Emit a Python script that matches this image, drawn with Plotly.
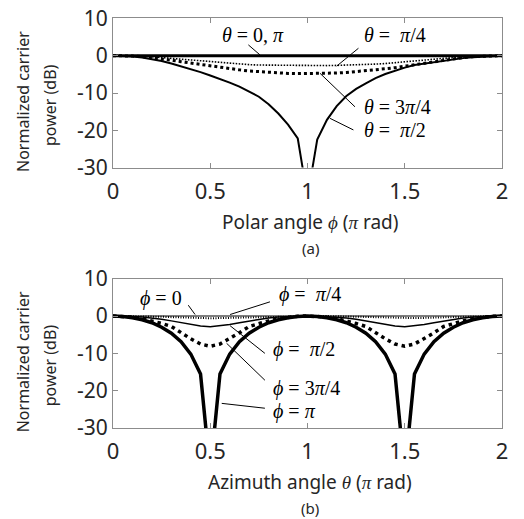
import plotly.graph_objects as go

# ---------------- data ----------------
ang = [0.0, 0.05, 0.1, 0.15, 0.2, 0.25, 0.3, 0.35, 0.4, 0.45, 0.5,
       0.55, 0.6, 0.65, 0.7, 0.75, 0.8, 0.85, 0.9, 0.95, 1.0,
       1.05, 1.1, 1.15, 1.2, 1.25, 1.3, 1.35, 1.4, 1.45, 1.5,
       1.55, 1.6, 1.65, 1.7, 1.75, 1.8, 1.85, 1.9, 1.95, 2.0]

# (a) power vs polar angle phi
a_theta_0_pi = [0.0] * 41
a_theta_pi4 = [0.0, 0.0, -0.05, -0.15, -0.3, -0.5, -0.7, -0.95, -1.2, -1.45, -1.7,
               -1.9, -2.1, -2.25, -2.4, -2.5, -2.55, -2.6, -2.65, -2.7, -2.7,
               -2.7, -2.65, -2.6, -2.55, -2.5, -2.4, -2.25, -2.1, -1.9, -1.7,
               -1.45, -1.2, -0.95, -0.7, -0.5, -0.3, -0.15, -0.05, 0.0, 0.0]
a_theta_3pi4 = [0.0, 0.0, -0.1, -0.25, -0.5, -0.8, -1.2, -1.6, -2.0, -2.4, -2.8,
                -3.2, -3.5, -3.8, -4.1, -4.3, -4.5, -4.65, -4.75, -4.8, -4.8,
                -4.8, -4.75, -4.65, -4.5, -4.3, -4.1, -3.8, -3.5, -3.2, -2.8,
                -2.4, -2.0, -1.6, -1.2, -0.8, -0.5, -0.25, -0.1, 0.0, 0.0]
a_theta_pi2 = [0.0, -0.05, -0.2, -0.5, -0.9, -1.4, -2.1, -2.8, -3.6, -4.4, -5.3,
               -6.2, -7.2, -8.3, -9.6, -11.0, -13.0, -15.5, -18.5, -22.2, -38.0,
               -22.5, -17.2, -13.5, -10.8, -8.9, -7.4, -6.0, -4.9, -4.0, -3.2,
               -2.5, -2.1, -1.7, -1.3, -0.95, -0.65, -0.4, -0.2, -0.05, 0.0]

# (b) power vs azimuth angle theta
b_phi_0 = [0.0] * 41
b_phi_pi4 = [0.0, 0.0, 0.0, -0.05, -0.1, -0.2, -0.3, -0.4, -0.5, -0.55, -0.6,
             -0.55, -0.5, -0.4, -0.3, -0.2, -0.1, -0.05, 0.0, 0.0, 0.0,
             0.0, 0.0, -0.05, -0.1, -0.2, -0.3, -0.4, -0.5, -0.55, -0.6,
             -0.55, -0.5, -0.4, -0.3, -0.2, -0.1, -0.05, 0.0, 0.0, 0.0]
b_phi_pi2 = [0.0, 0.0, -0.1, -0.25, -0.5, -0.85, -1.3, -1.8, -2.3, -2.7, -2.9,
             -2.7, -2.3, -1.8, -1.3, -0.85, -0.5, -0.25, -0.1, 0.0, 0.0,
             0.0, -0.1, -0.25, -0.5, -0.85, -1.3, -1.8, -2.3, -2.7, -2.9,
             -2.7, -2.3, -1.8, -1.3, -0.85, -0.5, -0.25, -0.1, 0.0, 0.0]
b_phi_3pi4 = [0.0, -0.05, -0.3, -0.7, -1.3, -2.0, -2.8, -4.5, -6.1, -7.5, -8.1,
              -7.5, -6.1, -4.5, -2.8, -2.0, -1.3, -0.7, -0.3, -0.05, 0.0,
              -0.05, -0.3, -0.7, -1.3, -2.0, -2.8, -4.5, -6.1, -7.5, -8.1,
              -7.5, -6.1, -4.5, -2.8, -2.0, -1.3, -0.7, -0.3, -0.05, 0.0]
b_phi_pi = [0.0, -0.1, -0.45, -1.0, -1.8, -3.0, -4.6, -6.9, -10.2, -15.5, -42.0,
            -15.5, -10.2, -6.9, -4.6, -3.0, -1.8, -1.0, -0.45, -0.1, 0.0,
            -0.1, -0.45, -1.0, -1.8, -3.0, -4.6, -6.9, -10.2, -15.5, -42.0,
            -15.5, -10.2, -6.9, -4.6, -3.0, -1.8, -1.0, -0.45, -0.1, 0.0]

x_ticks = [0, 0.5, 1, 1.5, 2]
x_ticklabels = ["0", "0.5", "1", "1.5", "2"]
y_ticks = [10, 0, -10, -20, -30]
y_ticklabels = ["10", "0", "-10", "-20", "-30"]

# ---------------- figure ----------------
W, H = 524, 519
SANS = "Noto Sans"
SERIF = "Liberation Serif"
BLACK = "#000000"
PHI = "\u03d5"

fig = go.Figure()

def add(xa, ya, y, width, dash="solid"):
    fig.add_trace(go.Scatter(x=ang, y=y, xaxis=xa, yaxis=ya, mode="lines",
                             line=dict(color=BLACK, width=width, dash=dash),
                             showlegend=False, hoverinfo="skip"))

# (a)
add("x", "y", a_theta_pi2, 2.0)
add("x", "y", a_theta_pi4, 1.6, "1.5px,1.5px")
add("x", "y", a_theta_3pi4, 3.0, "3px,3px")
add("x", "y", a_theta_0_pi, 3.0)
# (b)
add("x2", "y2", b_phi_0, 1.2)
add("x2", "y2", b_phi_pi4, 2.0, "1px,1.5px")
add("x2", "y2", b_phi_pi2, 1.5)
add("x2", "y2", b_phi_3pi4, 3.5, "3.5px,4px")
add("x2", "y2", b_phi_pi, 3.5)

xdom = [113 / W, 502 / W]
top_dom = [1 - 167.6 / H, 1 - 18.4 / H]
bot_dom = [1 - 428 / H, 1 - 278.7 / H]

axis_common = dict(
    showgrid=False, zeroline=False, showline=True, linecolor="#8c8c8c",
    linewidth=1, mirror="ticks", ticks="inside", ticklen=5, tickcolor="#8c8c8c",
    automargin=False,
)
xfont = dict(family=SANS, size=22, color="#262626")
yfont = dict(family=SANS, size=21, color="#262626")
fig.update_layout(
    width=W, height=H, margin=dict(l=0, r=0, t=0, b=0, pad=0, autoexpand=False),
    autosize=False,
    paper_bgcolor="white", plot_bgcolor="white", showlegend=False,
    xaxis=dict(axis_common, domain=xdom, range=[0, 2], anchor="y", tickfont=xfont,
               ticklabelstandoff=4, tickvals=x_ticks, ticktext=x_ticklabels),
    yaxis=dict(axis_common, domain=top_dom, range=[-30, 10], anchor="x", tickfont=yfont,
               tickvals=y_ticks, ticktext=y_ticklabels),
    xaxis2=dict(axis_common, domain=xdom, range=[0, 2], anchor="y2", tickfont=xfont,
                ticklabelstandoff=4, tickvals=x_ticks, ticktext=x_ticklabels),
    yaxis2=dict(axis_common, domain=bot_dom, range=[-30, 10], anchor="x2", tickfont=yfont,
                tickvals=y_ticks, ticktext=y_ticklabels),
)

def ser(s):
    return f'<span style="font-family:{SERIF}"><i>{s}</i></span>'

def paper_text(text, px, py, size, angle=0, color="#262626"):
    fig.add_annotation(text=text, x=px / W, y=1 - py / H, xref="paper", yref="paper",
                       showarrow=False, textangle=angle, xanchor="center", yanchor="middle",
                       font=dict(family=SANS, size=size, color=color))

for off, title, tag in [(0, f"Polar angle {ser(PHI)} ({ser('π')} rad)", "(a)"),
                        (260.3, f"Azimuth angle {ser('θ')} ({ser('π')} rad)", "(b)")]:
    paper_text("Normalized carrier", 23, 102 + off, 16, -90)
    paper_text("power (dB)", 50, 105 + off, 16, -90)
    paper_text(title, 310, 222 + off, 19)
    paper_text(tag, 310, 248 + off, 15)

def label(xa, ya, text, x, y, anchor="left"):
    fig.add_annotation(text=text, x=x, y=y, xref=xa, yref=ya, showarrow=False,
                       xanchor=anchor, yanchor="middle",
                       font=dict(family=SERIF, size=20, color=BLACK))

def leader(xa, ya, x0, y0, x1, y1):
    fig.add_shape(type="line", xref=xa, yref=ya, x0=x0, y0=y0, x1=x1, y1=y1,
                  line=dict(color=BLACK, width=1))

# (a) labels
label("x", "y", "<i>θ</i> = 0, <i>π</i>", 0.72, 5.5, "center")
leader("x", "y", 0.696, 2.9, 0.756, 0.2)
label("x", "y", "<i>θ</i> =  <i>π</i>/4", 1.28, 5.6)
leader("x", "y", 1.262, 2.0, 1.15, -2.8)
label("x", "y", "<i>θ</i> = 3<i>π</i>/4", 1.28, -13.8)
leader("x", "y", 1.064, -4.7, 1.244, -13.7)
label("x", "y", "<i>θ</i> =  <i>π</i>/2", 1.28, -19.9)
leader("x", "y", 1.116, -16.8, 1.236, -19.9)

# (b) labels
label("x2", "y2", f"<i>{PHI}</i> = 0", 0.129, 4.6)
leader("x2", "y2", 0.387, 2.9, 0.422, 0.4)
label("x2", "y2", f"<i>{PHI}</i> =  <i>π</i>/4", 0.843, 5.9)
leader("x2", "y2", 0.807, 3.8, 0.602, 0.4)
label("x2", "y2", f"<i>{PHI}</i> =  <i>π</i>/2", 0.81, -9.1)
leader("x2", "y2", 0.781, -10.0, 0.602, -2.6)
label("x2", "y2", f"<i>{PHI}</i> = 3<i>π</i>/4", 0.81, -19.3)
leader("x2", "y2", 0.781, -17.2, 0.584, -7.3)
label("x2", "y2", f"<i>{PHI}</i> = <i>π</i>", 0.81, -25.7)
leader("x2", "y2", 0.781, -24.7, 0.559, -23.4)

fig.write_html("out.html")
